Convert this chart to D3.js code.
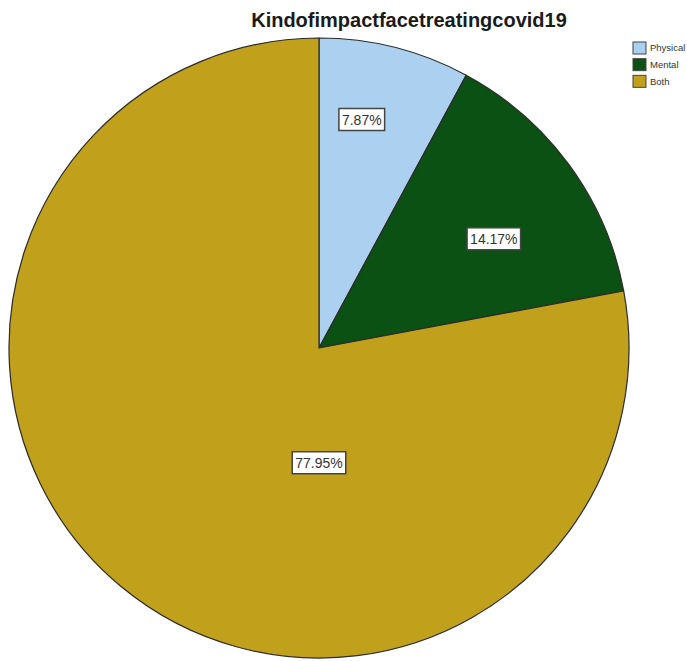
<!DOCTYPE html>
<html>
<head>
<meta charset="utf-8">
<script src="https://cdn.jsdelivr.net/npm/d3@7"></script>
<style>
  body { margin: 0; background: #fff; }
  svg { display: block; }
</style>
</head>
<body>
<div id="chart"></div>
<script>
// data (counts read as share of 127 responses)
const categories = ['Physical', 'Mental', 'Both'];
const counts = [10, 18, 99];
const percentLabels = ['7.87%', '14.17%', '77.95%'];
const colors = ['#acd0ef', '#0b5114', '#c1a11b'];
const titleText = 'Kindofimpactfacetreatingcovid19';

const width = 687, height = 661;
const cx = 319, cy = 348, radius = 310;

// label placement (polar: degrees clockwise from top, fraction of radius)
const labelAngle = [10.6, 58, 180];
const labelRadius = [0.75, 0.665, 0.37];

const svg = d3.select('#chart')
  .append('svg')
  .attr('width', width)
  .attr('height', height);

const pie = d3.pie().sort(null).value((d) => d);
const arcs = pie(counts);
const arc = d3.arc().innerRadius(0).outerRadius(radius);

const g = svg.append('g').attr('transform', `translate(${cx},${cy})`);

g.selectAll('path.slice')
  .data(arcs)
  .enter()
  .append('path')
  .attr('class', 'slice')
  .attr('d', arc)
  .attr('fill', (d, i) => colors[i])
  .attr('stroke', '#2b2b2b')
  .attr('stroke-width', 1.2)
  .attr('stroke-linejoin', 'round');

/* ---------------- LABELS ---------------- */
const labels = g.selectAll('g.lbl')
  .data(arcs)
  .enter()
  .append('g')
  .attr('class', 'lbl')
  .attr('transform', (d, i) => {
    const p = d3.pointRadial(labelAngle[i] * Math.PI / 180, labelRadius[i] * radius);
    return `translate(${p[0]},${p[1]})`;
  });

labels.append('text')
  .attr('text-anchor', 'middle')
  .attr('dy', '0.36em')
  .attr('font-family', 'Liberation Sans, Arial, sans-serif')
  .attr('font-size', 14)
  .attr('fill', '#333')
  .text((d, i) => percentLabels[i]);

labels.each(function () {
  const grp = d3.select(this);
  const bb = grp.select('text').node().getBBox();
  grp.insert('rect', 'text')
    .attr('x', bb.x - 3)
    .attr('y', bb.y - 3)
    .attr('width', bb.width + 6)
    .attr('height', bb.height + 6)
    .attr('fill', '#fff')
    .attr('stroke', '#444')
    .attr('stroke-width', 1.5);
});

/* ---------------- TITLE ---------------- */
svg.append('text')
  .attr('x', 409)
  .attr('y', 27)
  .attr('text-anchor', 'middle')
  .attr('font-family', 'Liberation Sans, Arial, sans-serif')
  .attr('font-weight', 'bold')
  .attr('font-size', 20)
  .attr('fill', '#1a1a1a')
  .text(titleText);

/* ---------------- LEGEND ---------------- */
const legend = svg.append('g').attr('transform', 'translate(633,42)');
const rowY = d3.scaleBand().domain(categories).range([0, 50]);

const item = legend.selectAll('g.item')
  .data(categories)
  .enter()
  .append('g')
  .attr('class', 'item')
  .attr('transform', (d) => `translate(0,${rowY(d)})`);

item.append('rect')
  .attr('width', 13)
  .attr('height', 12)
  .attr('fill', (d, i) => colors[i])
  .attr('stroke', '#444')
  .attr('stroke-width', 1);

item.append('text')
  .attr('x', 17)
  .attr('y', 6)
  .attr('dy', '0.35em')
  .attr('font-family', 'Liberation Sans, Arial, sans-serif')
  .attr('font-size', 9.5)
  .attr('fill', '#333')
  .text((d) => d);
</script>
</body>
</html>
